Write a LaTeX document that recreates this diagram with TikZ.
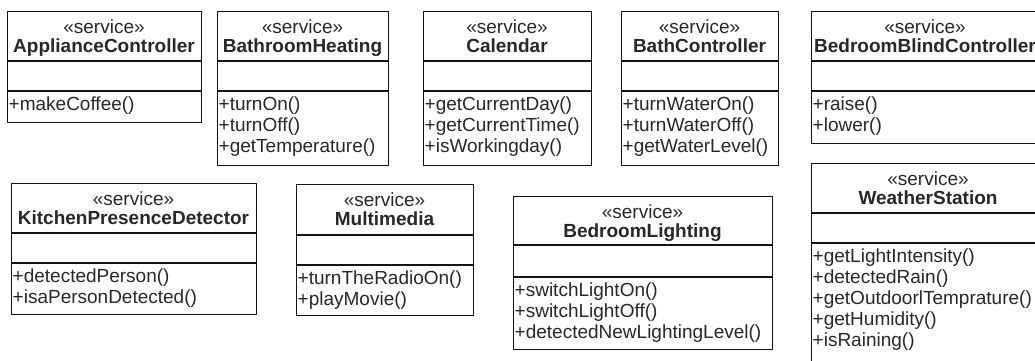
\documentclass[tikz,border=0pt]{standalone}
\usepackage{fontspec}
\setmainfont{Liberation Sans}
\definecolor{inkc}{RGB}{40,40,40}
\definecolor{linec}{RGB}{20,20,20}
\tikzset{
  classbox/.style={draw=linec, line width=1.4pt, inner sep=0pt, fill=none},
  compline/.style={draw=linec, line width=1.4pt},
  umltext/.style={inner sep=0pt, text=inkc, font=\fontsize{19}{21}\selectfont},
  stereo/.style={umltext, anchor=base},
  cname/.style={umltext, anchor=base, font=\fontsize{19}{21}\selectfont\bfseries},
  meth/.style={umltext, anchor=base west},
}
% #1 id, #2 left, #3 top, #4 right, #5 title line, #6 attr line, #7 bottom, #8 name, #9 methods
\newcommand\umlclass[9]{%
  \node[classbox, anchor=north west, minimum width=#4pt-#2pt, minimum height=#7pt-#3pt] (#1) at (#2,#3) {};
  \coordinate (#1-tl) at (#2,#5); \coordinate (#1-tr) at (#4,#5);
  \coordinate (#1-al) at (#2,#6); \coordinate (#1-ar) at (#4,#6);
  \draw[compline] (#1-tl) -- (#1-tr);
  \draw[compline] (#1-al) -- (#1-ar);
  \node[stereo] (#1-s) at ({(#2+#4)/2},{#3+22}) {«service»};
  \node[cname] (#1-n) at ({(#2+#4)/2},{#3+41.5}) {#8};
  \foreach \m [count=\i] in {#9} {%
    \node[meth] (#1-m\i) at ({#2+1.5},{#6+19.5+(\i-1)*21}) {\m};
  }%
}
\begin{document}
\begin{tikzpicture}[x=1pt,y=-1pt]
  \useasboundingbox (0,0) rectangle (1035,360);
  \fill[white] (0,0) rectangle (1035,360);
  \clip (0,0) rectangle (1035,360);
  \umlclass{ac}{7}{11}{201}{61}{91}{122}{ApplianceController}{+makeCoffee()}
  \umlclass{bh}{217}{11}{388}{61}{91}{165}{BathroomHeating}{+turnOn(),+turnOff(),+getTemperature()}
  \umlclass{cal}{423}{11}{591}{61}{91}{165}{Calendar}{+getCurrentDay(),+getCurrentTime(),+isWorkingday()}
  \umlclass{bc}{621}{11}{778}{61}{91}{165}{BathController}{+turnWaterOn(),+turnWaterOff(),+getWaterLevel()}
  \umlclass{bbc}{811}{11}{1039}{61}{91}{143}{BedroomBlindController}{+raise(),+lower()}
  \umlclass{ws}{811}{163}{1045}{213}{243}{372}{WeatherStation}{+getLightIntensity(),+detectedRain(),+getOutdoorlTemprature(),+getHumidity(),+isRaining()}
  \umlclass{kpd}{11}{183}{256}{233}{263}{314}{KitchenPresenceDetector}{+detectedPerson(),+isaPersonDetected()}
  \umlclass{mm}{296}{184}{473}{235}{265}{315}{Multimedia}{+turnTheRadioOn(),+playMovie()}
  \umlclass{bl}{513}{196}{772}{245}{277}{349}{BedroomLighting}{+switchLightOn(),+switchLightOff(),+detectedNewLightingLevel()}
\end{tikzpicture}
\end{document}
